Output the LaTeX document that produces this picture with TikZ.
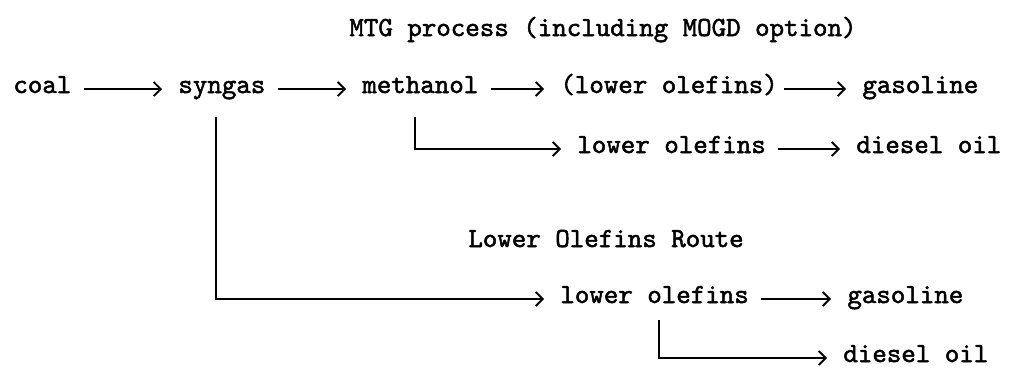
\documentclass[tikz,border=0pt]{standalone}
\usepackage{fontspec}
\newfontfamily\tw{lmmono10-regular.otf}[FakeBold=1.8]
\usetikzlibrary{arrows.meta}

\begin{document}
\begin{tikzpicture}[x=0.5pt, y=-0.5pt,
  font=\tw\fontsize{13.8}{16}\selectfont,
  item/.style={anchor=base west, inner sep=0pt, text height=4pt, text depth=0pt},
  arr/.style={line width=0.7pt, shorten <=6pt, shorten >=8pt,
    -{Straight Barb[length=3.5pt, width=7pt, line width=0.9pt]}},
  elbow/.style={arr, shorten <=0pt}]
  \useasboundingbox (0,0) rectangle (1013,370);
  % MTG route
  \node[item] (mtg) at (349,36) {MTG process (including MOGD option)};
  \node[item] (coal) at (13,93) {coal};
  \node[item] (syngas) at (178,93) {syngas};
  \node[item] (methanol) at (362,93) {methanol};
  \node[item] (olefA) at (560,93) {(lower olefins)};
  \node[item] (gasA) at (862,93) {gasoline};
  \node[item] (olefB) at (577,153) {lower olefins};
  \node[item] (dieselB) at (856,153) {diesel oil};
  \draw[arr] (coal) -- (syngas);
  \draw[arr] (syngas) -- (methanol);
  \draw[arr] (methanol) -- (olefA);
  \draw[arr, shorten <=3pt] (olefA) -- (gasA);
  \draw[arr] (olefB) -- (dieselB);
  \coordinate (mdrop) at (415,117);
  \draw[elbow] (mdrop) |- (olefB);
  % lower olefins route
  \node[item] (route) at (468,247) {Lower Olefins Route};
  \node[item] (olefC) at (560,303) {lower olefins};
  \node[item] (gasC) at (847,303) {gasoline};
  \node[item] (dieselD) at (843,362) {diesel oil};
  \draw[arr] (olefC) -- (gasC);
  \coordinate (sdrop) at (216,117);
  \coordinate (odrop) at (659,320);
  \draw[elbow] (sdrop) |- (olefC);
  \draw[elbow] (odrop) |- (dieselD);
\end{tikzpicture}
\end{document}
